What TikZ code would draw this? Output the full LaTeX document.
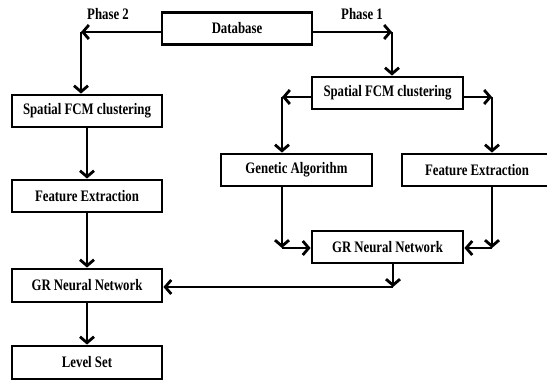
\documentclass[tikz,border=0pt]{standalone}
\usepackage{fontspec}
\setmainfont{Liberation Serif}[FakeStretch=0.8]
\usetikzlibrary{arrows.meta}
\begin{document}
\begin{tikzpicture}[x=1pt,y=-1pt,
  box/.style={draw,line width=2.8pt,minimum width=150pt,minimum height=32pt,inner sep=0pt,font=\bfseries\fontsize{16}{18}\selectfont},
  lbl/.style={font=\bfseries\fontsize{16}{18}\selectfont,inner sep=0pt},
  arr/.style={line width=2.8pt,-{Straight Barb[length=6pt,width=14pt,line width=2.8pt]}}]
\useasboundingbox (0,0) rectangle (547,381);
\node[box] (db) at (237,28.5) {Database};
\node[box] (s2) at (87,111) {Spatial FCM clustering};
\node[box] (f2) at (87,196) {Feature Extraction};
\node[box,minimum height=33pt] (g2) at (87,285.5) {GR Neural Network};
\node[box,minimum height=33pt] (ls) at (87,362.5) {Level Set};
\node[box,minimum width=151pt] (s1) at (387.5,93) {Spatial FCM clustering};
\node[box,minimum width=151pt] (ga) at (296.5,170) {Genetic Algorithm};
\node[box,minimum width=150pt] (fe) at (477,170) {Feature Extraction};
\node[box,minimum width=151pt] (g1) at (387.5,247) {GR Neural Network};
\node[lbl] (p2) at (108,14) {Phase 2};
\node[lbl] (p1) at (362,14) {Phase 1};
\coordinate (c1) at (81,32);
\coordinate (c2) at (392,32);
\coordinate (c3) at (282,97);
\coordinate (c4) at (492,97);
\coordinate (c5) at (282,248);
\coordinate (c6) at (492,248);
\coordinate (c7) at (393,287);
% phase 2
\draw[arr] (db.west|-c1) -- (c1);
\draw[arr] (c1) -- (c1|-s2.north);
\draw[arr] (s2) -- (f2);
\draw[arr] (f2) -- (g2);
\draw[arr] (g2) -- (ls);
% phase 1
\draw[arr] (db.east|-c2) -- (c2);
\draw[arr] (c2) -- (c2|-s1.north);
\draw[arr] (s1.west|-c3) -- (c3);
\draw[arr] (c3) -- (c3|-ga.north);
\draw[arr] (s1.east|-c4) -- (c4);
\draw[arr] (c4) -- (c4|-fe.north);
\draw[arr] (c5|-ga.south) -- (c5);
\draw[arr] (c5) -- (g1.west|-c5);
\draw[arr] (c6|-fe.south) -- (c6);
\draw[arr] (c6) -- (g1.east|-c6);
\draw[arr] (c7|-g1.south) -- (c7);
\draw[arr] (c7) -- (g2.east|-c7);
\end{tikzpicture}
\end{document}
